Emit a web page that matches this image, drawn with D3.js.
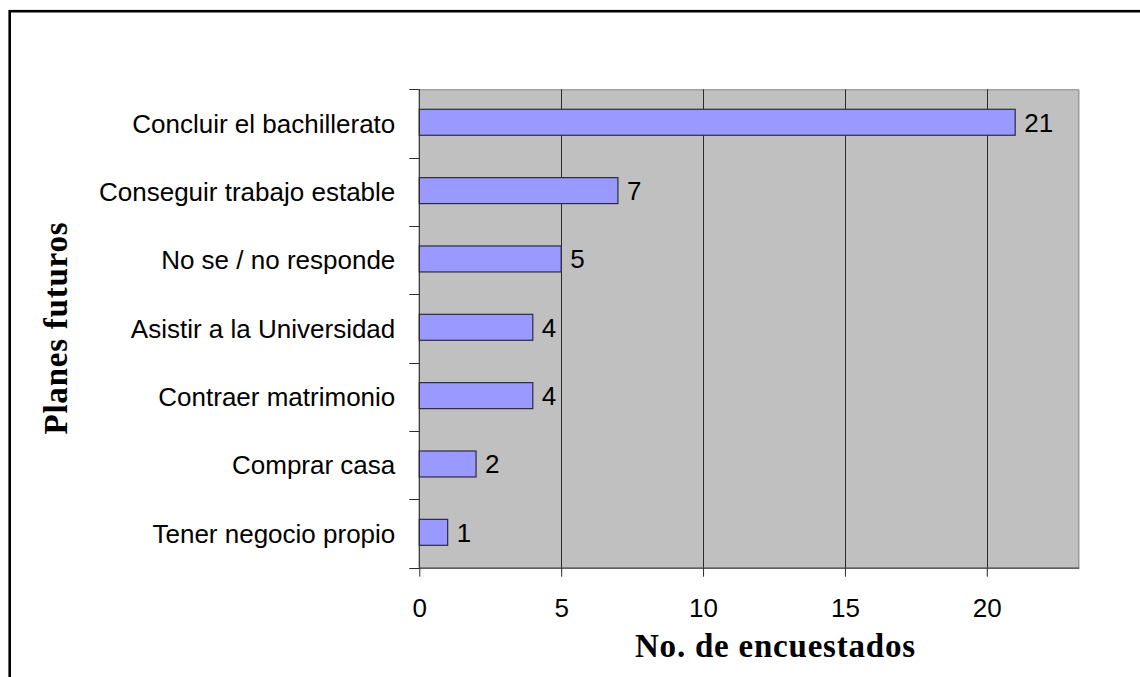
<!DOCTYPE html>
<html>
<head>
<meta charset="utf-8">
<script src="https://cdn.jsdelivr.net/npm/d3@7"></script>
<style>
  html, body { margin: 0; padding: 0; background: #fff; }
  svg { display: block; }
</style>
</head>
<body>
<svg id="chart" width="1140" height="677"></svg>
<script>
const categories = [
  "Concluir el bachillerato",
  "Conseguir trabajo estable",
  "No se / no responde",
  "Asistir a la Universidad",
  "Contraer matrimonio",
  "Comprar casa",
  "Tener negocio propio"
];
const values = [21, 7, 5, 4, 4, 2, 1];
const xTicks = [0, 5, 10, 15, 20];
const xTitle = "No. de encuestados";
const yTitle = "Planes futuros";

const svg = d3.select("#chart");
const W = 1140, H = 677;

// outer frame (right/bottom edges are outside the picture)
svg.append("rect")
  .attr("x", 9.7).attr("y", 11.2)
  .attr("width", W + 20).attr("height", H + 20)
  .attr("fill", "#fff").attr("stroke", "#000").attr("stroke-width", 2.6);

const plot = { left: 419.3, right: 1079.3, top: 89.3, bottom: 567.7 };

const x = d3.scaleLinear().domain([0, 23.26]).range([plot.left, plot.right]);
const y = d3.scaleBand().domain(categories).range([plot.top, plot.bottom])
  .paddingInner(0.62).paddingOuter(0.31);

const data = categories.map((c, i) => ({ c, v: values[i] }));

// plot background
svg.append("rect")
  .attr("x", plot.left).attr("y", plot.top)
  .attr("width", plot.right - plot.left).attr("height", plot.bottom - plot.top)
  .attr("fill", "#c0c0c0");

// top & right plot border (gray)
svg.append("path")
  .attr("d", `M${plot.left},${plot.top + 0.5}H${plot.right - 0.5}V${plot.bottom}`)
  .attr("fill", "none").attr("stroke", "#8a8a8a").attr("stroke-width", 1);

// vertical gridlines
svg.append("g").selectAll("line")
  .data(xTicks.filter(t => t > 0))
  .join("line")
  .attr("x1", d => Math.round(x(d)) + 0.5).attr("x2", d => Math.round(x(d)) + 0.5)
  .attr("y1", plot.top).attr("y2", plot.bottom)
  .attr("stroke", "#2b2b2b").attr("stroke-width", 1);

// bars
svg.append("g").selectAll("rect")
  .data(data)
  .join("rect")
  .attr("x", x(0))
  .attr("y", d => y(d.c) - 1.2)
  .attr("width", d => x(d.v) - x(0))
  .attr("height", y.bandwidth())
  .attr("fill", "#9999ff")
  .attr("stroke", "#2b2b40").attr("stroke-width", 1.2);

// value labels
svg.append("g").selectAll("text")
  .data(data)
  .join("text")
  .attr("x", d => x(d.v) + 9)
  .attr("y", d => y(d.c) - 1.2 + y.bandwidth() / 2)
  .attr("dy", "0.36em")
  .attr("font-family", "Liberation Sans, Arial, sans-serif")
  .attr("font-size", 26)
  .attr("fill", "#000")
  .text(d => d.v);

// y axis: labels
const yAxis = d3.axisLeft(y).tickSize(0).tickPadding(24);
const gy = svg.append("g").attr("transform", `translate(${plot.left},0)`).call(yAxis);
gy.select(".domain").remove();
gy.selectAll("text")
  .attr("font-family", "Liberation Sans, Arial, sans-serif")
  .attr("font-size", 26).attr("fill", "#000").attr("dy", "0.35em");

// y axis line and category boundary ticks
const step = y.step();
const boundaries = d3.range(categories.length + 1).map(i => plot.top + i * step);
svg.append("g").selectAll("line")
  .data(boundaries)
  .join("line")
  .attr("x1", plot.left - 10).attr("x2", plot.left)
  .attr("y1", d => Math.round(d) + 0.5).attr("y2", d => Math.round(d) + 0.5)
  .attr("stroke", "#2b2b2b").attr("stroke-width", 1);
svg.append("line")
  .attr("x1", plot.left).attr("x2", plot.left)
  .attr("y1", plot.top).attr("y2", plot.bottom)
  .attr("stroke", "#2b2b2b").attr("stroke-width", 1.2);

// x axis
const xAxis = d3.axisBottom(x).tickValues(xTicks).tickSize(9).tickPadding(22).tickFormat(d3.format("d"));
const gx = svg.append("g").attr("transform", `translate(0,${plot.bottom})`).call(xAxis);
gx.select(".domain").attr("d", `M${plot.left},0.5H${plot.right}`).attr("stroke", "#2b2b2b").attr("stroke-width", 1.2);
gx.selectAll(".tick line").attr("stroke", "#2b2b2b");
gx.selectAll("text")
  .attr("font-family", "Liberation Sans, Arial, sans-serif")
  .attr("font-size", 26).attr("fill", "#000");

// axis titles
svg.append("text")
  .attr("x", 775).attr("y", 657)
  .attr("text-anchor", "middle")
  .attr("font-family", "Liberation Serif, Times New Roman, serif")
  .attr("font-weight", "bold")
  .attr("font-size", 33)
  .attr("textLength", 280).attr("lengthAdjust", "spacing")
  .attr("fill", "#000")
  .text(xTitle);

svg.append("text")
  .attr("transform", `translate(66.5,${(plot.top + plot.bottom) / 2}) rotate(-90)`)
  .attr("text-anchor", "middle")
  .attr("font-family", "Liberation Serif, Times New Roman, serif")
  .attr("font-weight", "bold")
  .attr("font-size", 33)
  .attr("textLength", 212).attr("lengthAdjust", "spacing")
  .attr("fill", "#000")
  .text(yTitle);
</script>
</body>
</html>
